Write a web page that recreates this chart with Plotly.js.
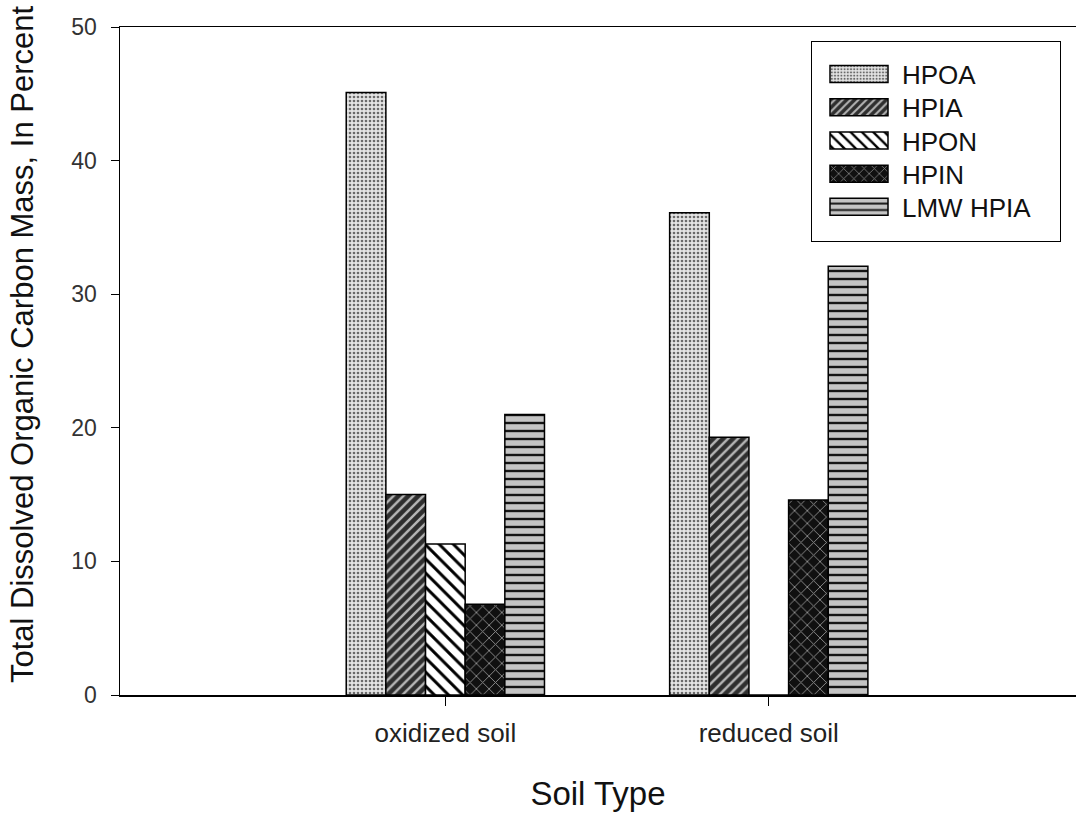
<!DOCTYPE html>
<html>
<head>
<meta charset="utf-8">
<script src="https://cdn.plot.ly/plotly-3.0.1.min.js"></script>
<style>
  html, body { margin: 0; padding: 0; background: #fff; }
  #chart { width: 1076px; height: 814px; }
</style>
</head>
<body>
<div id="chart"></div>
<script>
// Soil types on the x axis
const soilTypes = ['oxidized soil', 'reduced soil'];

// DOC fractions, percent of total dissolved organic carbon mass
const hpoa    = [45.1, 36.1];
const hpia    = [15.0, 19.3];
const hpon    = [11.3, 0];
const hpin    = [6.8, 14.6];
const lmwHpia = [21.0, 32.1];

const seriesNames = ['HPOA', 'HPIA', 'HPON', 'HPIN', 'LMW HPIA'];
const seriesValues = [hpoa, hpia, hpon, hpin, lmwHpia];

// fill patterns for each fraction (grey-scale print style)
const patterns = [
  { shape: '.', bgcolor: '#e4e4e4', fgcolor: '#6a6a6a', size: 4, solidity: 0.35, fillmode: 'replace' },
  { shape: '/', bgcolor: '#2e2e2e', fgcolor: '#b5b5b5', size: 7, solidity: 0.35, fillmode: 'replace' },
  { shape: '\\', bgcolor: '#ffffff', fgcolor: '#000000', size: 10, solidity: 0.3, fillmode: 'replace' },
  { shape: 'x', bgcolor: '#101010', fgcolor: '#8a8a8a', size: 9, solidity: 0.2, fillmode: 'replace' },
  { shape: '-', bgcolor: '#c4c4c4', fgcolor: '#151515', size: 8, solidity: 0.3, fillmode: 'replace' }
];

const traces = seriesNames.map((name, i) => ({
  type: 'bar',
  name: name,
  x: soilTypes,
  y: seriesValues[i],
  marker: {
    color: patterns[i].bgcolor,
    pattern: patterns[i],
    line: { color: '#000', width: 1.5 }
  },
  hoverinfo: 'x+y+name'
}));

const font = 'Arial, "Liberation Sans", sans-serif';

const layout = {
  width: 1076,
  height: 814,
  margin: { l: 120, r: 0, t: 27, b: 119 },
  paper_bgcolor: '#fff',
  plot_bgcolor: '#fff',
  font: { family: font, color: '#222' },
  barmode: 'group',
  bargap: 0.387,
  bargroupgap: 0,
  showlegend: true,
  legend: {
    x: 0.7228, y: 0.979, xanchor: 'left', yanchor: 'top',
    bordercolor: '#000', borderwidth: 1.2, bgcolor: '#fff',
    font: { family: font, size: 26, color: '#111' },
    itemwidth: 60,
    traceorder: 'normal'
  },
  xaxis: {
    type: 'category',
    range: [-1.006, 1.95],
    showline: true, linecolor: '#000', linewidth: 1.5, mirror: true,
    ticks: 'outside', ticklen: 9, tickcolor: '#000', tickwidth: 1,
    ticklabelstandoff: 5,
    showgrid: false, zeroline: false,
    tickfont: { family: font, size: 26, color: '#222' },
    title: { text: 'Soil Type', font: { family: font, size: 33, color: '#111' }, standoff: 35 }
  },
  yaxis: {
    range: [0, 50],
    tickvals: [0, 10, 20, 30, 40, 50],
    showline: true, linecolor: '#000', linewidth: 1.5,
    ticks: 'outside', ticklen: 8, tickcolor: '#000', tickwidth: 1,
    ticklabelstandoff: 9,
    showgrid: false, zeroline: false,
    tickfont: { family: font, size: 23, color: '#333' }
  },
  annotations: [{
    text: 'Total Dissolved Organic Carbon Mass, In Percent',
    xref: 'paper', yref: 'paper',
    x: -0.1025, y: 0.5254, xanchor: 'center', yanchor: 'middle',
    textangle: -90, showarrow: false,
    font: { family: font, size: 31, color: '#111' }
  }]
};

Plotly.newPlot('chart', traces, layout, { displayModeBar: false, staticPlot: true }).then(gd => {
  const legend = gd.querySelector('.legend');
  if (!legend) return;
  // legend frame
  const bg = legend.querySelector('rect.bg');
  if (bg) { bg.setAttribute('width', 249); bg.setAttribute('height', 200); }
  const scroll = legend.querySelector('.scrollbox');
  if (scroll) scroll.removeAttribute('clip-path');
  // evenly spaced rows with wide rectangular swatches
  legend.querySelectorAll('g.traces').forEach((g, i) => {
    g.setAttribute('transform', 'translate(13,' + (33 + 33.2 * i) + ')');
    g.querySelectorAll('.legendpoints path').forEach(p => {
      p.setAttribute('d', 'M-29,-8.5H29V8.5H-29Z');
    });
    const t = g.querySelector('text.legendtext');
    if (t) t.setAttribute('x', parseFloat(t.getAttribute('x')) + 8);
  });
});
</script>
</body>
</html>
